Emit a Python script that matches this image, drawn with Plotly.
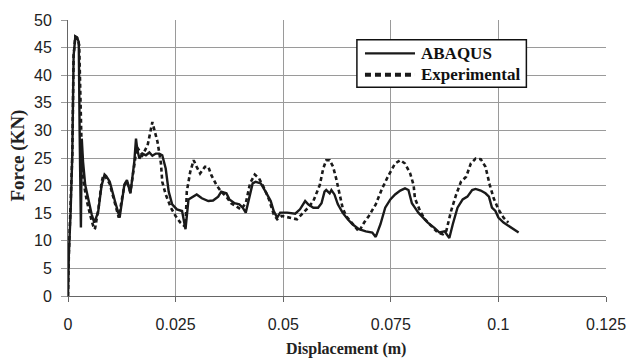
import plotly.graph_objects as go

abaqus_x = [0, 0.0002, 0.0006, 0.0010, 0.0013, 0.0017, 0.0021, 0.0025, 0.0027, 0.0030, 0.0032, 0.0035,
            0.0040, 0.0048, 0.0055, 0.0061, 0.0067, 0.0070, 0.0078, 0.0085, 0.0089, 0.0097, 0.0109, 0.0120,
            0.0131, 0.0137, 0.0145, 0.0150, 0.0154, 0.0158, 0.0161, 0.0166, 0.0173, 0.0181, 0.0189, 0.0196,
            0.0204, 0.0212, 0.0219, 0.0227, 0.0234, 0.0242, 0.0253, 0.0265, 0.0273, 0.0280, 0.0292, 0.0299,
            0.0311, 0.0326, 0.0337, 0.0349, 0.0356, 0.0368, 0.0375, 0.0387, 0.0398, 0.0406, 0.0413, 0.0421,
            0.0429, 0.0436, 0.0448, 0.0459, 0.0471, 0.0478, 0.0486, 0.0493, 0.0509, 0.0528, 0.0539, 0.0551,
            0.0558, 0.0570, 0.0581, 0.0589, 0.0596, 0.0600, 0.0608, 0.0612, 0.0619, 0.0627, 0.0638, 0.0650,
            0.0661, 0.0676, 0.0692, 0.0707, 0.0715, 0.0726, 0.0737, 0.0749, 0.0760, 0.0772, 0.0783, 0.0791,
            0.0799, 0.0806, 0.0814, 0.0825, 0.0836, 0.0852, 0.0863, 0.0875, 0.0886, 0.0894, 0.0905, 0.0917,
            0.0928, 0.0939, 0.0947, 0.0959, 0.0970, 0.0978, 0.0985, 0.0993, 0.1000, 0.1012, 0.1023, 0.1035,
            0.1047]
abaqus_y = [0, 7.6, 15.0, 25.6, 43.5, 47.0, 46.8, 46.0, 30.0, 12.4, 28.5, 24.3,
            20.1, 17.1, 14.8, 13.3, 14.5, 15.2, 20.0, 22.0, 21.7, 20.7, 17.2, 14.2,
            20.2, 21.0, 18.6, 21.9, 24.3, 28.5, 26.5, 24.9, 25.8, 25.5, 26.0, 25.4,
            25.8, 25.8, 25.5, 23.1, 18.9, 16.6, 15.7, 15.4, 12.1, 17.5, 18.0, 18.4,
            17.7, 17.2, 17.3, 18.0, 18.9, 18.6, 17.5, 16.8, 16.6, 16.0, 15.1, 17.7,
            20.4, 20.7, 20.4, 18.9, 17.2, 15.4, 14.2, 15.1, 15.1, 14.9, 15.7, 17.2,
            16.6, 16.0, 16.0, 16.8, 18.9, 19.2, 18.6, 19.2, 18.4, 16.6, 15.1, 13.9,
            13.0, 12.1, 11.7, 11.5, 10.7, 13.0, 16.0, 17.5, 18.4, 19.1, 19.5, 19.2,
            16.8, 16.0, 15.1, 14.2, 13.3, 12.3, 11.5, 11.7, 10.5, 13.0, 16.0, 17.5,
            18.0, 19.2, 19.4, 19.1, 18.6, 18.0, 16.0, 15.4, 14.2, 13.3, 12.7, 12.1,
            11.5]

exp_x = [0, 0.0002, 0.0010, 0.0013, 0.0017, 0.0021, 0.0026, 0.0028, 0.0030, 0.0032, 0.0036, 0.0044,
         0.0055, 0.0061, 0.0063, 0.0068, 0.0071, 0.0078, 0.0082, 0.0088, 0.0097, 0.0109, 0.0118, 0.0124,
         0.0131, 0.0137, 0.0145, 0.0150, 0.0156, 0.0160, 0.0173, 0.0185, 0.0196, 0.0208, 0.0216, 0.0219,
         0.0227, 0.0239, 0.0250, 0.0261, 0.0273, 0.0276, 0.0284, 0.0292, 0.0299, 0.0307, 0.0318, 0.0326,
         0.0333, 0.0345, 0.0356, 0.0368, 0.0379, 0.0391, 0.0402, 0.0413, 0.0423, 0.0434, 0.0444, 0.0456,
         0.0467, 0.0478, 0.0486, 0.0497, 0.0513, 0.0532, 0.0543, 0.0558, 0.0570, 0.0585, 0.0593, 0.0600,
         0.0608, 0.0616, 0.0623, 0.0631, 0.0638, 0.0646, 0.0661, 0.0673, 0.0676, 0.0688, 0.0699, 0.0715,
         0.0730, 0.0745, 0.0760, 0.0772, 0.0783, 0.0795, 0.0803, 0.0806, 0.0818, 0.0829, 0.0844, 0.0859,
         0.0871, 0.0879, 0.0890, 0.0902, 0.0913, 0.0925, 0.0936, 0.0947, 0.0959, 0.0970, 0.0980, 0.0989,
         0.1000, 0.1012, 0.1023]
exp_y = [0, 7.6, 25.6, 43.5, 47.0, 46.8, 45.5, 37.5, 31.5, 25.6, 20.7, 17.1,
         13.6, 12.1, 12.3, 14.5, 16.0, 20.5, 21.9, 21.5, 20.3, 16.8, 14.2, 17.0,
         20.0, 20.8, 18.8, 21.5, 25.0, 27.0, 25.5, 27.3, 31.5, 27.9, 24.0, 20.7,
         18.4, 16.0, 14.5, 13.3, 12.5, 18.9, 22.5, 24.6, 23.4, 22.2, 23.4, 23.4,
         21.9, 20.1, 18.9, 18.0, 16.8, 16.3, 15.7, 16.8, 20.4, 22.0, 21.3, 19.5,
         17.5, 14.8, 13.9, 14.5, 14.2, 13.9, 14.8, 16.0, 17.2, 20.1, 23.1, 24.6,
         24.6, 23.4, 21.3, 18.4, 16.0, 14.5, 13.0, 11.9, 11.7, 13.3, 14.5, 16.6,
         19.5, 21.9, 24.0, 24.6, 24.0, 22.2, 20.1, 17.7, 15.4, 13.9, 12.7, 11.5,
         11.2, 11.8, 15.4, 18.4, 20.7, 21.6, 24.0, 24.9, 24.8, 23.4, 20.1, 17.7,
         15.7, 14.2, 13.3]

series_names = ["ABAQUS", "Experimental"]
x_ticks = [0, 0.025, 0.05, 0.075, 0.1, 0.125]
x_tick_labels = ["0", "0.025", "0.05", "0.075", "0.1", "0.125"]
y_ticks = [0, 5, 10, 15, 20, 25, 30, 35, 40, 45, 50]

line_color = "#1a1a1a"
styles = [dict(color=line_color, width=2.4), dict(color=line_color, width=2.6, dash="4px,3px")]
legend_styles = [dict(color=line_color, width=2.2), dict(color=line_color, width=4, dash="6px,4px")]

fig = go.Figure()
fig.add_trace(go.Scatter(x=abaqus_x, y=abaqus_y, mode="lines", name=series_names[0],
                         line=styles[0], showlegend=False))
fig.add_trace(go.Scatter(x=exp_x, y=exp_y, mode="lines", name=series_names[1],
                         line=styles[1], showlegend=False))

tick_font = dict(family="Liberation Sans, Arial, sans-serif", size=16, color="#222222")
serif = "Liberation Serif, Times New Roman, serif"

# custom legend box (paper coordinates)
shapes = [dict(type="rect", xref="paper", yref="paper", x0=0.537, x1=0.852, y0=0.756, y1=0.928,
               line=dict(color="#111111", width=1.5), fillcolor="white", layer="above")]
annotations = []
legend_rows = [0.879, 0.802]
for name, st, yy in zip(series_names, legend_styles, legend_rows):
    shapes.append(dict(type="line", xref="paper", yref="paper", x0=0.552, x1=0.645, y0=yy, y1=yy,
                       line=st, layer="above"))
    annotations.append(dict(text="<b>" + name + "</b>", xref="paper", yref="paper",
                            x=0.652, y=yy, xanchor="left", yanchor="middle", showarrow=False,
                            font=dict(family=serif, size=17, color="#111111")))

annotations += [
    dict(text="<b>Displacement (m)</b>", xref="paper", yref="paper",
         x=0.517, y=0, yshift=-53, xanchor="center", yanchor="middle",
         showarrow=False, font=dict(family=serif, size=16, color="#222222")),
    dict(text="<b>Force (KN)</b>", xref="paper", yref="paper",
         x=0, xshift=-50, y=0.509, xanchor="center", yanchor="middle",
         textangle=-90, showarrow=False, font=dict(family=serif, size=19, color="#222222")),
]

fig.update_layout(
    width=638, height=360,
    margin=dict(l=68, r=24, t=17, b=64),
    paper_bgcolor="white", plot_bgcolor="white",
    xaxis=dict(range=[0, 0.125], tickvals=x_ticks, ticktext=x_tick_labels,
               showgrid=True, gridcolor="#9a9a9a", gridwidth=1,
               showline=True, linecolor="#666666", linewidth=1,
               ticks="outside", ticklen=5, tickcolor="#666666",
               tickfont=tick_font, ticklabelstandoff=9, zeroline=False),
    yaxis=dict(range=[0, 50], tickvals=y_ticks,
               showgrid=True, gridcolor="#9a9a9a", gridwidth=1,
               showline=True, linecolor="#666666", linewidth=1,
               ticks="outside", ticklen=6, tickcolor="#9a9a9a",
               tickfont=tick_font, ticklabelstandoff=6, zeroline=False),
    shapes=shapes,
    annotations=annotations,
)

fig.write_html("out.html")
